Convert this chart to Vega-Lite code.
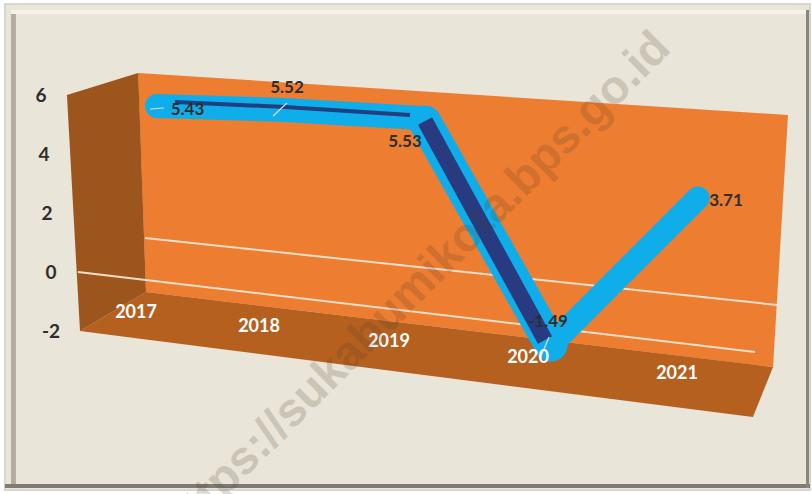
{
"$schema":"https://vega.github.io/schema/vega-lite/v6.json",
"width":812,"height":494,"padding":0,"autosize":{"type":"none"},"background":"#ffffff",
"config":{"view":{"stroke":null}},
"datasets":{
"series":[{"year":2017,"value":5.43},{"year":2018,"value":5.52},{"year":2019,"value":5.53},{"year":2020,"value":-1.49},{"year":2021,"value":3.71}],
"ticks":[{"tick":-2},{"tick":0},{"tick":2},{"tick":4},{"tick":6}],
"frame":[{"part":"paper","a":2015.945,"b":2021.8,"c":9.122,"d":-7.297}],
"edges":[
{"part":"bottom","a":2015.945,"b":2021.8,"c":-7.095,"d":-7.23},
{"part":"left","a":2015.989,"b":2016.025,"c":8.919,"d":-7.095},
{"part":"right","a":2021.771,"b":2021.793,"c":8.919,"d":-7.23},
{"part":"top","a":2015.989,"b":2021.771,"c":8.919,"d":8.784}],
"back":[{"year":2016.913,"top":6.791,"bottom":6.791},{"year":2016.971,"top":6.774,"bottom":-0.608},{"year":2021.531,"top":5.405,"bottom":-3.142},{"year":2021.64,"top":5.372,"bottom":5.372}],
"floor":[{"year":2016.491,"top":-1.926,"bottom":-1.926},{"year":2016.971,"top":-0.608,"bottom":-2.209},{"year":2021.385,"top":-3.061,"bottom":-4.831},{"year":2021.531,"top":-3.142,"bottom":-3.142}],
"side":[{"level":6.791,"from":2016.913,"to":2016.913},{"level":6.047,"from":2016.396,"to":2016.92},{"level":-0.608,"from":2016.475,"to":2016.971},{"level":-1.926,"from":2016.491,"to":2016.491}],
"grid":[{"g":"2","year":2016.964,"level":1.216},{"g":"2","year":2021.56,"level":-1.047},{"g":"0","year":2016.476,"level":0.068},{"g":"0","year":2021.4,"level":-2.635}],
"leaders":[{"g":"a","year":2017,"level":5.574},{"g":"a","year":2017.102,"level":5.608},{"g":"b","year":2017.895,"level":5.338},{"g":"b","year":2017.996,"level":5.777},{"g":"c","year":2019.902,"level":-2.128},{"g":"c","year":2019.844,"level":-2.77}],
"mark":[{"year":2018.942,"level":-0.405,"label":"https://sukabumikota.bps.go.id"}]
},
"resolve":{"scale":{"x":"independent","y":"independent","color":"independent"}},
"layer":[
{"data":{"name":"frame"},"mark":{"type":"rect","fill":"#E9E5D8","stroke":"#D6D6D2","strokeWidth":2},
 "encoding":{"x":{"field":"a","type":"quantitative","axis":null,"scale":{"domain":[2017,2021],"range":[150,700],"nice":false,"zero":false}},"x2":{"field":"b"},
 "y":{"field":"c","type":"quantitative","axis":null,"scale":{"domain":[-2,6],"range":[333.2,96.4],"nice":false,"zero":false}},"y2":{"field":"d"}}},
{"data":{"name":"edges"},"mark":{"type":"rect"},
 "encoding":{"x":{"field":"a","type":"quantitative","axis":null,"scale":{"domain":[2017,2021],"range":[150,700],"nice":false,"zero":false}},"x2":{"field":"b"},
 "y":{"field":"c","type":"quantitative","axis":null,"scale":{"domain":[-2,6],"range":[333.2,96.4],"nice":false,"zero":false}},"y2":{"field":"d"},
 "color":{"field":"part","type":"nominal","legend":null,"scale":{"domain":["bottom","left","right","top"],"range":["#7F7B70","#B3AD9F","#8A867B","#F5F2EA"]}}}},
{"data":{"name":"back"},"mark":{"type":"area","color":"#ED7D31"},
 "encoding":{"x":{"field":"year","type":"quantitative","axis":null,"scale":{"domain":[2017,2021],"range":[150,700],"nice":false,"zero":false}},
 "y":{"field":"top","type":"quantitative","axis":null,"scale":{"domain":[-2,6],"range":[333.2,96.4],"nice":false,"zero":false}},"y2":{"field":"bottom"}}},
{"data":{"name":"floor"},"mark":{"type":"area","color":"#B5601F"},
 "encoding":{"x":{"field":"year","type":"quantitative","axis":null,"scale":{"domain":[2017,2021],"range":[150,700],"nice":false,"zero":false}},
 "y":{"field":"top","type":"quantitative","axis":null,"scale":{"domain":[-2,6],"range":[333.2,96.4],"nice":false,"zero":false}},"y2":{"field":"bottom"}}},
{"data":{"name":"side"},"mark":{"type":"area","orient":"horizontal","color":"#9C551D"},
 "encoding":{"y":{"field":"level","type":"quantitative","axis":null,"scale":{"domain":[-2,6],"range":[333.2,96.4],"nice":false,"zero":false}},
 "x":{"field":"from","type":"quantitative","axis":null,"scale":{"domain":[2017,2021],"range":[150,700],"nice":false,"zero":false}},"x2":{"field":"to"}}},
{"data":{"name":"grid"},"mark":{"type":"line","color":"#F3DEC9","strokeWidth":2},
 "encoding":{"x":{"field":"year","type":"quantitative","axis":null,"scale":{"domain":[2017,2021],"range":[150,700],"nice":false,"zero":false}},
 "y":{"field":"level","type":"quantitative","axis":null,"scale":{"domain":[-2,6],"range":[333.2,96.4],"nice":false,"zero":false}},"detail":{"field":"g"}}},
{"data":{"name":"series"},"transform":[{"filter":"datum.year<=2019"}],"mark":{"type":"line","color":"#0FAEEA","strokeWidth":24,"strokeCap":"round","strokeJoin":"round"},
 "encoding":{"x":{"field":"year","type":"quantitative","axis":null,"scale":{"domain":[2017,2018,2019],"range":[157,285,420],"nice":false,"zero":false}},
 "y":{"field":"value","type":"quantitative","axis":null,"scale":{"domain":[5.43,5.52,5.53],"range":[106,110,118],"nice":false,"zero":false}}}},
{"data":{"name":"series"},"transform":[{"filter":"datum.year>=2020"}],"mark":{"type":"line","color":"#0FAEEA","strokeWidth":23,"strokeCap":"round"},
 "encoding":{"x":{"field":"year","type":"quantitative","axis":null,"scale":{"domain":[2020,2021],"range":[551,698],"nice":false,"zero":false}},
 "y":{"field":"value","type":"quantitative","axis":null,"scale":{"domain":[-1.49,3.71],"range":[345,198],"nice":false,"zero":false}}}},
{"data":{"name":"series"},"transform":[{"filter":"datum.year>=2019 && datum.year<=2020"}],"mark":{"type":"line","color":"#0FAEEA","strokeWidth":33,"strokeCap":"round"},
 "encoding":{"x":{"field":"year","type":"quantitative","axis":null,"scale":{"domain":[2019,2020],"range":[425,551],"nice":false,"zero":false}},
 "y":{"field":"value","type":"quantitative","axis":null,"scale":{"domain":[-1.49,5.53],"range":[345,122],"nice":false,"zero":false}}}},
{"data":{"name":"series"},"transform":[{"filter":"datum.year<=2019"}],"mark":{"type":"line","color":"#1E3F80","strokeWidth":4},
 "encoding":{"x":{"field":"year","type":"quantitative","axis":null,"scale":{"domain":[2017,2018,2019],"range":[175,285,410],"nice":false,"zero":false}},
 "y":{"field":"value","type":"quantitative","axis":null,"scale":{"domain":[5.43,5.52,5.53],"range":[102,107,115],"nice":false,"zero":false}}}},
{"data":{"name":"series"},"transform":[{"filter":"datum.year>=2019 && datum.year<=2020"}],"mark":{"type":"line","color":"#283A80","strokeWidth":16},
 "encoding":{"x":{"field":"year","type":"quantitative","axis":null,"scale":{"domain":[2019,2020],"range":[425,545],"nice":false,"zero":false}},
 "y":{"field":"value","type":"quantitative","axis":null,"scale":{"domain":[-1.49,5.53],"range":[340,121],"nice":false,"zero":false}}}},
{"data":{"name":"leaders"},"mark":{"type":"line","color":"#D9D9D9","strokeWidth":1.2},
 "encoding":{"x":{"field":"year","type":"quantitative","axis":null,"scale":{"domain":[2017,2021],"range":[150,700],"nice":false,"zero":false}},
 "y":{"field":"level","type":"quantitative","axis":null,"scale":{"domain":[-2,6],"range":[333.2,96.4],"nice":false,"zero":false}},"detail":{"field":"g"}}},
{"data":{"name":"series"},"mark":{"type":"text","font":"Lato","fontWeight":"bold","fontSize":17,"color":"#2E2E2E"},
 "encoding":{"x":{"field":"year","type":"quantitative","axis":null,"scale":{"domain":[2017,2018,2019,2020,2021],"range":[187.5,287,405,548,726],"nice":false,"zero":false}},
 "y":{"field":"value","type":"quantitative","axis":null,"scale":{"domain":[-1.49,3.71,5.43,5.52,5.53],"range":[322,201,110,88,142],"nice":false,"zero":false}},
 "text":{"field":"value","type":"nominal"}}},
{"data":{"name":"series"},"mark":{"type":"text","font":"Lato","fontWeight":"bold","fontSize":18,"color":"#ffffff"},
 "encoding":{"x":{"field":"year","type":"quantitative","axis":null,"scale":{"domain":[2017,2018,2019,2020,2021],"range":[136,259,389,528,677],"nice":false,"zero":false}},
 "y":{"field":"year","type":"quantitative","axis":null,"scale":{"domain":[2017,2018,2019,2020,2021],"range":[313,327,342,358,374],"nice":false,"zero":false}},
 "text":{"field":"year","type":"nominal"}}},
{"data":{"name":"ticks"},"mark":{"type":"text","font":"Lato","fontWeight":"bold","fontSize":19,"color":"#2E2E2E"},
 "encoding":{"x":{"field":"tick","type":"quantitative","axis":null,"scale":{"domain":[-2,0,2,4,6],"range":[51,51,47,44,41],"nice":false,"zero":false}},
 "y":{"field":"tick","type":"quantitative","axis":null,"scale":{"domain":[-2,6],"range":[332,96],"nice":false,"zero":false}},
 "text":{"field":"tick","type":"nominal"}}},
{"data":{"name":"mark"},"mark":{"type":"text","font":"Liberation Sans","fontWeight":"bold","fontSize":47,"angle":315,"color":"#4A3A2A","opacity":0.18},
 "encoding":{"x":{"field":"year","type":"quantitative","axis":null,"scale":{"domain":[2017,2021],"range":[150,700],"nice":false,"zero":false}},
 "y":{"field":"level","type":"quantitative","axis":null,"scale":{"domain":[-2,6],"range":[333.2,96.4],"nice":false,"zero":false}},
 "text":{"field":"label","type":"nominal"}}}
]
}
